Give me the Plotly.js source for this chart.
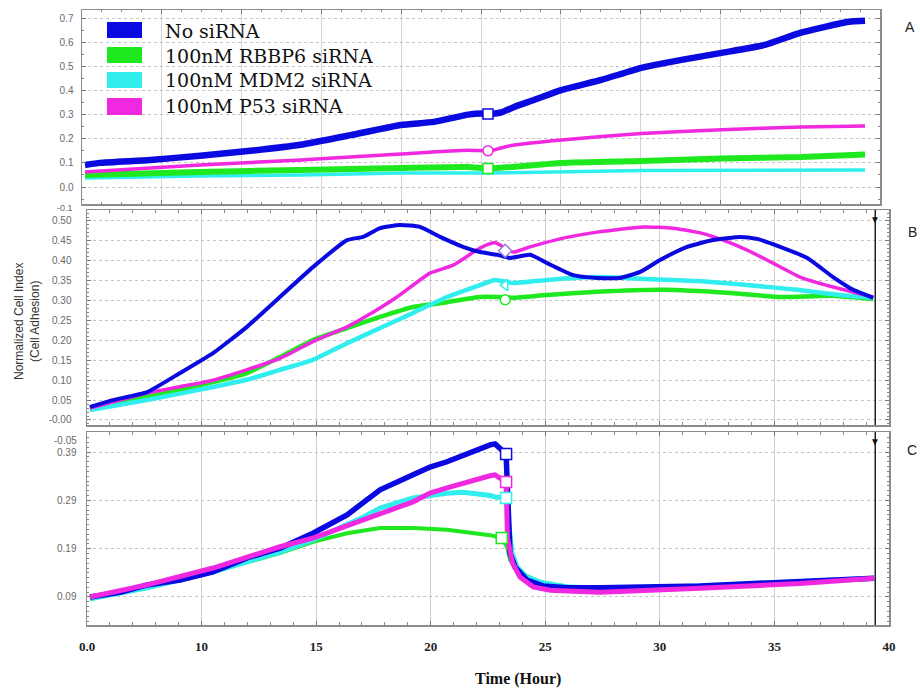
<!DOCTYPE html>
<html><head><meta charset="utf-8">
<script src="https://cdn.plot.ly/plotly-3.0.1.min.js"></script>
<style>html,body{margin:0;padding:0;background:#fff}#chart{width:920px;height:691px}</style>
</head><body><div id="chart"></div>
<script>
// ---------- series names ----------
const seriesNames = ["No siRNA", "100nM RBBP6 siRNA", "100nM MDM2 siRNA", "100nM P53 siRNA"];
const seriesColors = ["#0a0ae0", "#1ee81e", "#30eeee", "#f028e0"];

// ---------- Panel A (own time scale, 0-40) ----------
const aNoT = [0.15,0.9,3.42,5.93,8.44,10.95,13.47,15.98,17.64,19.35,20.0,20.35,21.0,21.66,22.66,24.02,26.03,28.04,30.05,32.06,34.22,36.0,38.44,39.25];
const aNoV = [0.091,0.100,0.112,0.130,0.150,0.175,0.215,0.257,0.270,0.300,0.305,0.303,0.309,0.332,0.361,0.402,0.444,0.494,0.527,0.556,0.589,0.639,0.685,0.689];
const aRbT = [0.15,5.93,10.95,15.98,19.35,20.5,24.02,28.04,32.06,36.08,39.25];
const aRbV = [0.050,0.062,0.071,0.079,0.083,0.077,0.100,0.108,0.118,0.124,0.135];
const aMdT = [0.15,5.93,10.95,15.98,20.5,28.04,39.25];
const aMdV = [0.037,0.046,0.050,0.058,0.058,0.068,0.070];
const aP5T = [0.15,3.42,5.93,10.95,15.98,19.35,20.5,21.0,21.66,24.02,28.04,32.06,36.08,39.25];
const aP5V = [0.062,0.079,0.091,0.112,0.137,0.152,0.150,0.162,0.174,0.195,0.222,0.237,0.249,0.253];
const aMarkT = [20.35, 20.35, 20.35];
const aMarkV = [0.303, 0.150, 0.077];

// ---------- Panel B ----------
const bNoT = [5.13,6.13,7.62,9.06,10.5,11.98,13.42,14.86,16.35,17.05,17.79,18.66,19.53,20.41,21.41,22.15,22.9,23.46,24.34,25.08,26.21,27.26,28.26,29.14,30.01,31.19,32.32,33.5,34.24,35.25,36.43,37.56,38.44,39.31];
const bNoV = [0.033,0.050,0.070,0.118,0.168,0.234,0.309,0.384,0.452,0.460,0.482,0.490,0.485,0.460,0.435,0.422,0.415,0.407,0.415,0.394,0.364,0.357,0.357,0.372,0.402,0.435,0.452,0.460,0.455,0.435,0.407,0.359,0.327,0.307];
const bRbT = [5.13,7.62,10.5,11.98,13.42,14.86,16.35,17.79,19.23,20.71,22.15,22.9,23.6,25.08,27.26,30.14,33.07,35.25,37.43,39.31];
const bRbV = [0.030,0.058,0.095,0.118,0.158,0.201,0.231,0.259,0.284,0.296,0.309,0.309,0.307,0.314,0.322,0.327,0.319,0.309,0.312,0.304];
const bMdT = [5.13,7.62,10.5,11.98,13.42,14.86,16.35,17.79,19.23,20.71,22.15,22.81,23.6,25.08,27.26,29.44,31.62,33.81,35.99,37.87,39.31];
const bMdV = [0.025,0.050,0.083,0.101,0.126,0.151,0.193,0.231,0.269,0.309,0.339,0.352,0.344,0.352,0.359,0.354,0.349,0.339,0.327,0.314,0.307];
const bP5T = [5.13,7.62,10.5,13.42,14.86,16.35,17.05,18.53,19.97,20.98,22.15,22.81,23.6,24.34,25.78,27.26,29.27,30.58,31.76,32.76,33.81,34.94,36.12,37.56,39.31];
const bP5V = [0.030,0.068,0.100,0.155,0.197,0.234,0.256,0.309,0.369,0.389,0.432,0.445,0.422,0.435,0.457,0.472,0.485,0.482,0.470,0.452,0.427,0.394,0.359,0.334,0.309];
const bMarkT = [23.25, 23.25, 23.25];
const bMarkV = [0.425, 0.339, 0.302];

// ---------- Panel C ----------
const cNoT = [5.13,6.5,7.62,9.06,10.5,11.98,13.42,14.86,16.35,17.79,19.23,19.97,20.71,21.41,22.59,22.81,23.29,23.46,23.68,24.2,24.9,25.95,27.39,31.76,36.12,39.35];
const cNoV = [0.090,0.100,0.115,0.125,0.142,0.171,0.191,0.222,0.260,0.312,0.343,0.359,0.370,0.384,0.405,0.407,0.386,0.181,0.152,0.125,0.113,0.109,0.109,0.113,0.121,0.129];
const cRbT = [5.13,7.62,10.5,13.42,14.86,16.35,17.79,19.23,20.71,22.15,22.59,23.1,23.33,23.46,23.9,24.77,25.95,27.39,31.76,36.12,39.35];
const cRbV = [0.086,0.109,0.142,0.181,0.204,0.222,0.233,0.233,0.229,0.222,0.218,0.212,0.194,0.167,0.140,0.121,0.111,0.109,0.113,0.121,0.129];
const cMdT = [5.13,7.62,10.5,13.42,14.86,17.05,17.79,19.23,20.71,21.41,22.59,22.81,23.33,23.37,23.55,23.77,24.2,24.9,25.95,27.39,31.76,36.12,39.35];
const cMdV = [0.086,0.109,0.142,0.183,0.208,0.255,0.274,0.295,0.305,0.307,0.300,0.297,0.295,0.256,0.181,0.152,0.131,0.119,0.111,0.107,0.113,0.121,0.129];
const cP5T = [5.13,7.62,10.5,13.42,14.86,17.05,19.23,19.97,20.71,22.59,22.81,23.29,23.35,23.57,23.9,24.47,25.21,26.21,27.39,31.76,36.12,39.35];
const cP5V = [0.090,0.115,0.150,0.194,0.212,0.249,0.287,0.305,0.316,0.341,0.343,0.328,0.212,0.160,0.131,0.111,0.104,0.102,0.100,0.108,0.118,0.129];
const cMarkT = [23.29, 23.29, 23.29, 23.1];
const cMarkV = [0.386, 0.328, 0.295, 0.212];

// ---------- ticks ----------
const xTickVals = [5,10,15,20,25,30,35,40];
const xTickText = ["0.0","10","15","20","25","30","35","40"];
const aYTickVals = [0,0.1,0.2,0.3,0.4,0.5,0.6,0.7];
const aYTickText = ["0.0","0.1","0.2","0.3","0.4","0.5","0.6","0.7"];
const bYTickVals = [0,0.05,0.1,0.15,0.2,0.25,0.3,0.35,0.4,0.45,0.5];
const bYTickText = ["-0.00","0.05","0.10","0.15","0.20","0.25","0.30","0.35","0.40","0.45","0.50"];
const cYTickVals = [0.09,0.19,0.29,0.39];
const cYTickText = ["0.09","0.19","0.29","0.39"];
const cursorTime = 39.4;

const [BLUE, GREEN, CYAN, MAG] = seriesColors;
const traces = [];
function line(x, y, color, width, xa, ya, shape) {
  traces.push({type:'scatter', mode:'lines', x:x, y:y, xaxis:xa, yaxis:ya,
    line:{color:color, width:width, shape:shape||'spline', smoothing:0.5},
    showlegend:false, hoverinfo:'skip'});
}
function marks(x, y, colors, symbols, xa, ya, size) {
  traces.push({type:'scatter', mode:'markers', x:x, y:y, xaxis:xa, yaxis:ya,
    marker:{symbol:symbols, size:size||10, color:'white', line:{color:colors, width:1.5}},
    showlegend:false, hoverinfo:'skip', cliponaxis:false});
}
// Panel A
line(aMdT, aMdV, CYAN, 3.5, 'x', 'y');
line(aRbT, aRbV, GREEN, 6, 'x', 'y');
line(aP5T, aP5V, MAG, 3.5, 'x', 'y');
line(aNoT, aNoV, BLUE, 6.5, 'x', 'y');
marks(aMarkT, aMarkV, [BLUE, MAG, GREEN], ['square','circle','square'], 'x', 'y', 10);
// Panel B
line(bRbT, bRbV, GREEN, 4.5, 'x2', 'y2');
line(bMdT, bMdV, CYAN, 4.5, 'x2', 'y2');
line(bP5T, bP5V, MAG, 3.5, 'x2', 'y2');
line(bNoT, bNoV, BLUE, 4, 'x2', 'y2');
marks(bMarkT, bMarkV, ['#9a7ae0', CYAN, GREEN], ['diamond','triangle-left','circle'], 'x2', 'y2', 10);
// Panel C
line(cRbT, cRbV, GREEN, 4, 'x3', 'y3', 'linear');
line(cMdT, cMdV, CYAN, 5, 'x3', 'y3', 'linear');
line(cNoT, cNoV, BLUE, 5.5, 'x3', 'y3', 'linear');
line(cP5T, cP5V, MAG, 5, 'x3', 'y3', 'linear');
marks(cMarkT, cMarkV, [BLUE, MAG, CYAN, GREEN], ['square','square','square','square'], 'x3', 'y3', 11);

const W = 920, H = 691;
const px = v => v / W, py = v => 1 - v / H;
const tickFont = {family:'Liberation Sans, Arial, sans-serif', size:10, color:'#6a6a6a'};
const frame = {showline:true, mirror:'allticks', linecolor:'#8c8c8c', linewidth:1.5, ticks:'inside', ticklen:4, tickcolor:'#777', zeroline:false, automargin:false};

function note(x, y, text, font, extra) {
  return Object.assign({xref:'paper', yref:'paper', x:px(x), y:py(y), text:text, showarrow:false,
    xanchor:'center', yanchor:'middle', font:font}, extra || {});
}

const layout = {
  width:W, height:H, paper_bgcolor:'#fff', plot_bgcolor:'#fff',
  margin:{l:0, r:0, t:0, b:0}, showlegend:false,
  xaxis: Object.assign({}, frame, {domain:[px(82), px(880)], anchor:'y', range:[0,40], tickmode:'linear', tick0:0, dtick:4,
    showticklabels:false, showgrid:true, gridcolor:'#d4d4d4', gridwidth:1,
    minor:{tickmode:'linear', tick0:0, dtick:1, ticks:'inside', ticklen:2, tickcolor:'#888'}}),
  yaxis: Object.assign({}, frame, {domain:[py(204), py(10)], anchor:'x', range:[-0.0705, 0.734], tickvals:aYTickVals, ticktext:aYTickText,
    tickfont:tickFont, ticklabelstandoff:5, showgrid:true, gridcolor:'#c4c4c4', griddash:'dot',
    minor:{tickmode:'linear', tick0:0, dtick:0.05, ticks:'inside', ticklen:2, tickcolor:'#888'}}),
  xaxis2: Object.assign({}, frame, {domain:[px(87), px(889)], anchor:'y2', range:[5,40], tickvals:xTickVals,
    showticklabels:false, showgrid:true, gridcolor:'#d0d0d0',
    minor:{tickmode:'linear', tick0:5, dtick:1, ticks:'inside', ticklen:3, tickcolor:'#888'}}),
  yaxis2: Object.assign({}, frame, {domain:[py(425), py(210)], anchor:'x2', range:[-0.0126, 0.5276], tickvals:bYTickVals, ticktext:bYTickText,
    tickfont:tickFont, ticklabelstandoff:12, showgrid:true, gridcolor:'#c4c4c4', griddash:'dot',
    minor:{tickmode:'linear', tick0:0, dtick:0.01, ticks:'inside', ticklen:2, tickcolor:'#888'}}),
  xaxis3: Object.assign({}, frame, {domain:[px(87), px(889)], anchor:'y3', range:[5,40], tickvals:xTickVals, ticktext:xTickText,
    tickfont:{family:'Liberation Serif, Times New Roman, serif', size:13, color:'#222', weight:'bold'}, ticklabelstandoff:9,
    showgrid:true, gridcolor:'#d0d0d0',
    minor:{tickmode:'linear', tick0:5, dtick:1, ticks:'inside', ticklen:3, tickcolor:'#888'}}),
  yaxis3: Object.assign({}, frame, {domain:[py(625), py(432)], anchor:'x3', range:[0.032, 0.4316], tickvals:cYTickVals, ticktext:cYTickText,
    tickfont:tickFont, ticklabelstandoff:7, showgrid:true, gridcolor:'#c4c4c4', griddash:'dot',
    minor:{tickmode:'linear', tick0:0.04, dtick:0.01, ticks:'inside', ticklen:2, tickcolor:'#888'}}),
  shapes: [
    {type:'line', xref:'x2', yref:'y2 domain', x0:cursorTime, x1:cursorTime, y0:0, y1:1, line:{color:'#222', width:1.5}},
    {type:'line', xref:'x3', yref:'y3 domain', x0:cursorTime, x1:cursorTime, y0:0, y1:1, line:{color:'#222', width:1.5}}
  ],
  annotations: [
    {xref:'x2', yref:'y2 domain', x:cursorTime, y:1, text:'▼', showarrow:false, xanchor:'center', yanchor:'top', font:{size:10, color:'#111'}},
    {xref:'x3', yref:'y3 domain', x:cursorTime, y:1, text:'▼', showarrow:false, xanchor:'center', yanchor:'top', font:{size:10, color:'#111'}},
    note(910, 27, 'A', {family:'Liberation Sans, Arial, sans-serif', size:14, color:'#222'}),
    note(912, 232, 'B', {family:'Liberation Sans, Arial, sans-serif', size:14, color:'#222'}),
    note(912, 450, 'C', {family:'Liberation Sans, Arial, sans-serif', size:14, color:'#222'}),
    note(27, 322, 'Normalized Cell Index<br>(Cell Adhesion)', {family:'Liberation Sans, Arial, sans-serif', size:12, color:'#333'}, {textangle:-90}),
    note(518, 679, 'Time (Hour)', {family:'Liberation Serif, Times New Roman, serif', size:16, color:'#111', weight:'bold'}),
    note(75, 208, '-0.1', {family:'Liberation Sans, Arial, sans-serif', size:9, color:'#6a6a6a'}, {xanchor:'right'}),
    note(79, 440, '-0.05', tickFont, {xanchor:'right'})
  ]
};

// custom legend (swatch rectangles + serif text), built from the series names/colours
const legendRows = [[22,38,31],[47,63,56],[72,88,80],[98,115,106]];
seriesNames.forEach((name, i) => {
  const r = legendRows[i];
  layout.shapes.push({type:'rect', xref:'paper', yref:'paper', x0:px(107), x1:px(142), y0:py(r[1]), y1:py(r[0]),
    fillcolor:seriesColors[i], line:{width:0}});
  layout.annotations.push(note(163, r[2], name, {family:'DejaVu Serif, Liberation Serif, serif', size:19, color:'#111'}, {xanchor:'left'}));
});

Plotly.newPlot('chart', traces, layout, {displayModeBar:false, staticPlot:true});
</script>
</body></html>
